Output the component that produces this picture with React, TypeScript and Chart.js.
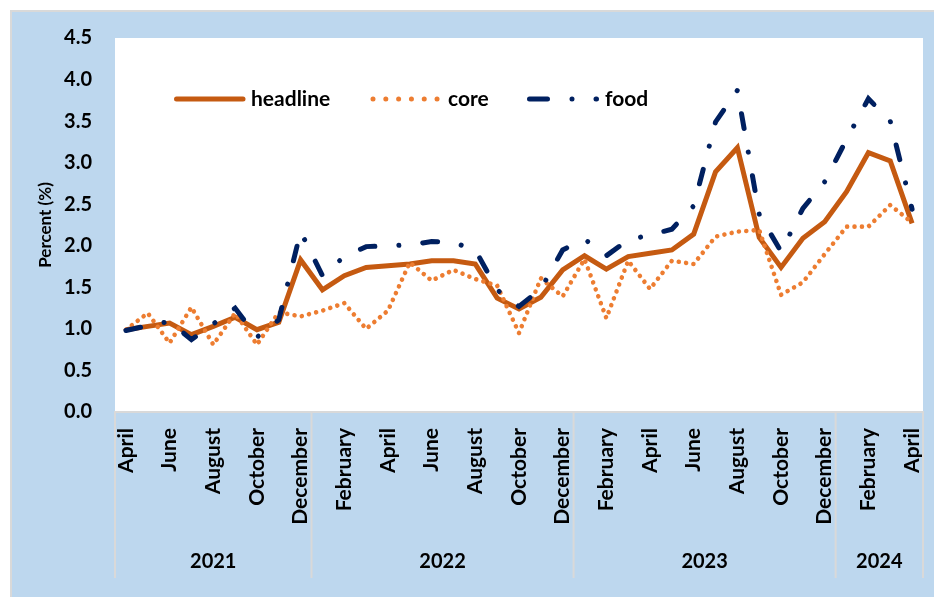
import React, { useEffect, useRef } from 'react';
import { Chart, registerables } from 'chart.js';

Chart.register(...registerables);

// ---- Data ----
const months = [
  'April', 'May', 'June', 'July', 'August', 'September', 'October', 'November', 'December',
  'January', 'February', 'March', 'April', 'May', 'June', 'July', 'August', 'September', 'October', 'November', 'December',
  'January', 'February', 'March', 'April', 'May', 'June', 'July', 'August', 'September', 'October', 'November', 'December',
  'January', 'February', 'March', 'April',
];
const yearLabels = ['2021', '2022', '2023', '2024'];
const yearMonthCounts = [9, 12, 12, 4];

const headline = [
  0.99, 1.03, 1.07, 0.93, 1.03, 1.14, 0.99, 1.08, 1.83,
  1.47, 1.64, 1.74, 1.76, 1.78, 1.82, 1.82, 1.78, 1.37, 1.24, 1.38, 1.71,
  1.88, 1.72, 1.87, 1.91, 1.95, 2.14, 2.89, 3.18, 2.10, 1.74, 2.09, 2.29,
  2.65, 3.12, 3.02, 2.27,
];
const core = [
  0.99, 1.19, 0.83, 1.26, 0.81, 1.19, 0.81, 1.20, 1.15,
  1.22, 1.31, 1.00, 1.22, 1.80, 1.58, 1.71, 1.60, 1.52, 0.95, 1.61, 1.39,
  1.84, 1.13, 1.82, 1.48, 1.82, 1.78, 2.11, 2.17, 2.19, 1.41, 1.56, 1.90,
  2.23, 2.23, 2.49, 2.28,
];
const food = [
  0.98, 1.04, 1.09, 0.87, 1.06, 1.25, 0.90, 1.11, 2.17,
  1.64, 1.87, 1.99, 2.00, 2.01, 2.05, 2.04, 1.95, 1.47, 1.27, 1.48, 1.95,
  2.08, 1.88, 2.07, 2.13, 2.20, 2.48, 3.49, 3.87, 2.38, 1.93, 2.45, 2.77,
  3.28, 3.77, 3.50, 2.44,
];
const seriesNames = ['headline', 'core', 'food'];

const HEADLINE_COLOR = '#C55A11';
const CORE_COLOR = '#ED7D31';
const FOOD_COLOR = '#002060';
const BLUE_BG = '#BDD7EE';
const GRAY = '#D9D9D9';
const FONT = 'Lato, "Open Sans", sans-serif';

const backgroundPlugin = {
  id: 'bgPanel',
  beforeDraw(chart: any) {
    const { ctx, width, height, chartArea } = chart;
    ctx.save();
    ctx.fillStyle = '#FFFFFF';
    ctx.fillRect(0, 0, width, height);
    ctx.fillStyle = GRAY;
    ctx.fillRect(10, 10, width - 10, height - 10);
    ctx.fillStyle = BLUE_BG;
    ctx.fillRect(12, 12, width - 12, height - 12);
    ctx.fillStyle = '#FFFFFF';
    ctx.fillRect(chartArea.left, chartArea.top, chartArea.right - chartArea.left, chartArea.bottom - chartArea.top);
    ctx.restore();
  },
};

const yearGroupPlugin = {
  id: 'yearGroups',
  afterDraw(chart: any) {
    const { ctx, chartArea } = chart;
    const xs = chart.scales.x;
    const half = (xs.getPixelForValue(1) - xs.getPixelForValue(0)) / 2;
    const bottomY = chartArea.bottom + 166;
    const labelY = chartArea.bottom + 150;
    ctx.save();
    ctx.strokeStyle = GRAY;
    ctx.lineWidth = 2;
    let idx = 0;
    const edges: number[] = [xs.getPixelForValue(0) - half];
    yearMonthCounts.forEach((n) => {
      idx += n;
      edges.push(xs.getPixelForValue(idx - 1) + half);
    });
    edges.forEach((x) => {
      ctx.beginPath();
      ctx.moveTo(x, chartArea.bottom);
      ctx.lineTo(x, bottomY);
      ctx.stroke();
    });
    ctx.fillStyle = '#000';
    ctx.font = `bold 20px ${FONT}`;
    ctx.textAlign = 'center';
    ctx.textBaseline = 'middle';
    yearLabels.forEach((lab, i) => {
      ctx.fillText(lab, (edges[i] + edges[i + 1]) / 2, labelY);
    });
    ctx.restore();
  },
};

const legendPlugin = {
  id: 'insideLegend',
  afterDraw(chart: any) {
    const { ctx, chartArea } = chart;
    const y = chartArea.top + 61;
    const x0 = chartArea.left;
    ctx.save();
    ctx.lineCap = 'round';
    // headline sample
    ctx.strokeStyle = HEADLINE_COLOR;
    ctx.lineWidth = 5;
    ctx.setLineDash([]);
    ctx.beginPath();
    ctx.moveTo(x0 + 61.5, y);
    ctx.lineTo(x0 + 128, y);
    ctx.stroke();
    // core sample
    ctx.strokeStyle = CORE_COLOR;
    ctx.lineWidth = 5;
    ctx.setLineDash([0.01, 12.8]);
    ctx.beginPath();
    ctx.moveTo(x0 + 258, y);
    ctx.lineTo(x0 + 323, y);
    ctx.stroke();
    // food sample
    ctx.strokeStyle = FOOD_COLOR;
    ctx.lineWidth = 5;
    ctx.setLineDash([18, 24.5, 0.01, 24]);
    ctx.beginPath();
    ctx.moveTo(x0 + 414.5, y);
    ctx.lineTo(x0 + 481.5, y);
    ctx.stroke();
    ctx.setLineDash([]);
    ctx.fillStyle = '#000';
    ctx.font = `bold 21px ${FONT}`;
    ctx.textAlign = 'left';
    ctx.textBaseline = 'middle';
    ctx.fillText(seriesNames[0], x0 + 136, y);
    ctx.fillText(seriesNames[1], x0 + 333, y);
    ctx.fillText(seriesNames[2], x0 + 490, y);
    ctx.restore();
  },
};

export default function App() {
  const canvasRef = useRef<HTMLCanvasElement | null>(null);

  useEffect(() => {
    const canvas = canvasRef.current;
    if (!canvas) return;
    const chart = new Chart(canvas, {
      type: 'line',
      data: {
        labels: months,
        datasets: [
          {
            label: seriesNames[0],
            data: headline,
            borderColor: HEADLINE_COLOR,
            backgroundColor: HEADLINE_COLOR,
            borderWidth: 5,
            borderJoinStyle: 'miter',
            borderCapStyle: 'butt',
            pointRadius: 0,
            tension: 0,
            fill: false,
            order: 2,
          },
          {
            label: seriesNames[1],
            data: core,
            borderColor: CORE_COLOR,
            backgroundColor: CORE_COLOR,
            borderWidth: 4.6,
            borderDash: [0.01, 7.4],
            borderCapStyle: 'round',
            pointRadius: 0,
            tension: 0,
            fill: false,
            order: 1,
          },
          {
            label: seriesNames[2],
            data: food,
            borderColor: FOOD_COLOR,
            backgroundColor: FOOD_COLOR,
            borderWidth: 5,
            borderDash: [15, 24, 0.01, 24],
            borderCapStyle: 'round',
            pointRadius: 0,
            tension: 0,
            fill: false,
            order: 0,
          },
        ],
      },
      options: {
        responsive: false,
        animation: false,
        events: [],
        layout: { padding: { left: 12, top: 38, right: 11, bottom: 0 } },
        plugins: {
          legend: { display: false },
          tooltip: { enabled: false },
          title: { display: false },
        },
        scales: {
          x: {
            type: 'category',
            offset: true,
            grid: { display: false, drawTicks: false },
            border: { display: true, color: GRAY, width: 2 },
            ticks: {
              autoSkip: false,
              minRotation: 90,
              maxRotation: 90,
              padding: 16,
              color: '#000',
              font: { family: FONT, size: 21, weight: 'bold' },
              callback: (_v: any, i: number) => (i % 2 === 0 ? months[i] : ''),
            },
            afterFit: (scale: any) => {
              scale.height = 185;
              scale.paddingLeft = 0;
              scale.paddingRight = 0;
            },
          },
          y: {
            min: 0,
            max: 4.5,
            grid: { display: false, drawTicks: false },
            border: { display: false },
            ticks: {
              stepSize: 0.5,
              padding: 23,
              color: '#000',
              font: { family: FONT, size: 20, weight: 'bold' },
              callback: (v: any) => Number(v).toFixed(1),
            },
            title: {
              display: true,
              text: 'Percent (%)',
              color: '#000',
              font: { family: FONT, size: 17, weight: 'bold' },
              padding: { top: 23, bottom: 0 },
            },
            afterFit: (scale: any) => {
              scale.width = 103;
              scale.paddingTop = 0;
              scale.paddingBottom = 0;
            },
          },
        },
      },
      plugins: [backgroundPlugin, yearGroupPlugin, legendPlugin],
    } as any);
    return () => chart.destroy();
  }, []);

  return (
    <div style={{ position: 'absolute', left: 0, top: 0, width: 934, height: 597 }}>
      <canvas ref={canvasRef} width={934} height={597} style={{ display: 'block', width: 934, height: 597 }} />
    </div>
  );
}
